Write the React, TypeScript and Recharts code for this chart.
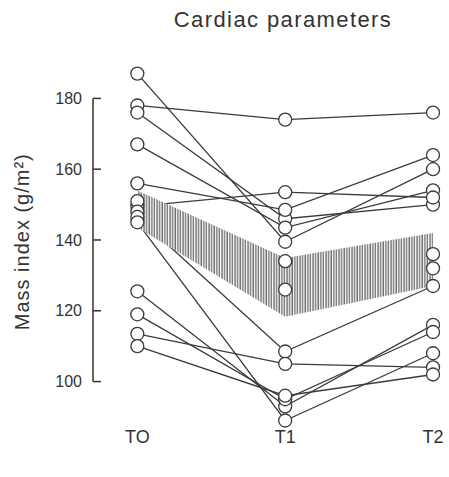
import { ComposedChart, Line, Area, XAxis, YAxis, ReferenceLine } from "recharts";

// time points
const timeLabels = ["TO", "T1", "T2"];
const timeIndex = [0, 1, 2];

// individual patients, mass index (g/m2) at T0 / T1 / T2
const t0Values = [187, 178, 176, 167, 156, 149.5, 151, 148, 146.5, 145, 125.5, 119, 113.5, 110];
const t1Values = [139.5, 174, 146, 143.5, 148.5, 153.5, 134, 126, 108.5, 89, 93, 95, 105, 96];
const t2Values = [160, 176, 150, 154, 164, 152, 136, 132, 127, 108, 116, 114, 104, 102];

// shaded band (low / high)
const bandLow = [143.5, 118.3, 127];
const bandHigh = [154, 134.9, 142];

const yTicks = [100, 120, 140, 160, 180];

const ink = "#333";
const X_MIN = -0.3;

const subjects = t0Values.map((v, i) => [
  { x: 0, y: v },
  { x: 1, y: t1Values[i] },
  { x: 2, y: t2Values[i] }
]);

const bandData = timeIndex.map((x, i) => ({ x, band: [bandLow[i], bandHigh[i]] }));

const YTick = (props: any) => {
  const { x, y, payload } = props;
  return (
    <g>
      <line x1={x} x2={x + 8} y1={y} y2={y} stroke={ink} strokeWidth={1.5} />
      <text x={x - 11} y={y} dy='0.35em' textAnchor='end' fontSize={16} fill={ink} fontFamily='"Liberation Sans", Arial, sans-serif'>
        {payload.value}
      </text>
    </g>
  );
};

const App = () => {
  return (
    <div style={{ position: "absolute", left: 0, top: 0, width: 449, height: 477, background: "#fff" }}>
      <div
        style={{
          position: "absolute",
          left: 283,
          top: 9,
          transform: "translateX(-50%)",
          whiteSpace: "nowrap",
          fontFamily: '"Liberation Sans", Arial, sans-serif',
          fontSize: 22,
          lineHeight: "22px",
          letterSpacing: "1.4px",
          color: ink
        }}
      >
        Cardiac parameters
      </div>
      <ComposedChart width={449} height={477} margin={{ top: 63, right: 8, bottom: 26.5, left: 0 }}>
        <defs>
          <pattern id='hatch' width='2.6' height='10' patternUnits='userSpaceOnUse'>
            <rect width='2.6' height='10' fill='#fff' />
            <line x1='1' y1='0' x2='1' y2='10' stroke='#4a4a4a' strokeWidth='1.1' />
          </pattern>
        </defs>

        <XAxis
          type='number'
          dataKey='x'
          domain={[X_MIN, 2.054]}
          ticks={timeIndex}
          tickFormatter={(v) => timeLabels[v]}
          axisLine={false}
          tickLine={false}
          tickSize={0}
          tickMargin={10}
          height={30}
          tick={{ fontSize: 18, fill: ink, fontFamily: '"Liberation Sans", Arial, sans-serif' }}
        />
        <YAxis
          type='number'
          dataKey='y'
          domain={[91, 190]}
          ticks={yTicks}
          interval={0}
          width={93}
          axisLine={false}
          tickLine={false}
          tickSize={0}
          tickMargin={0}
          tick={<YTick />}
          label={{
            value: "Mass index (g/m²)",
            angle: -90,
            position: "insideLeft",
            offset: 22,
            style: {
              textAnchor: "middle",
              fontSize: 20,
              letterSpacing: "1px",
              fill: ink,
              fontFamily: '"Liberation Sans", Arial, sans-serif'
            }
          }}
        />

        <ReferenceLine
          segment={[
            { x: X_MIN, y: 100 },
            { x: X_MIN, y: 180 }
          ]}
          stroke={ink}
          strokeWidth={1.5}
        />

        {/* patient lines */}
        {subjects.map((d, i) => (
          <Line
            key={"l" + i}
            data={d}
            dataKey='y'
            type='linear'
            stroke='#3a3a3a'
            strokeWidth={1.3}
            dot={false}
            activeDot={false}
            zIndex={400}
            isAnimationActive={false}
          />
        ))}

        {/* hatched band on top of lines */}
        <Area
          data={bandData}
          dataKey='band'
          type='linear'
          stroke='none'
          fill='url(#hatch)'
          fillOpacity={1}
          activeDot={false}
          zIndex={450}
          isAnimationActive={false}
        />

        {/* circles last so they sit over everything */}
        {subjects.map((d, i) => (
          <Line
            key={"d" + i}
            data={d}
            dataKey='y'
            stroke='none'
            dot={{ r: 6.5, fill: "#fff", stroke: "#3a3a3a", strokeWidth: 1.3 }}
            activeDot={false}
            zIndex={700}
            isAnimationActive={false}
          />
        ))}
      </ComposedChart>
    </div>
  );
};

export default App;
